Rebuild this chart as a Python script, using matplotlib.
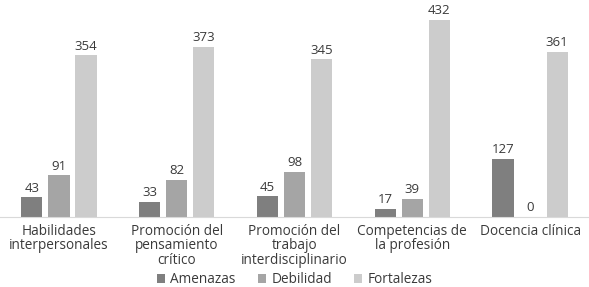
import matplotlib.pyplot as plt
import numpy as np

plt.rcParams['font.family'] = ['Open Sans', 'DejaVu Sans']

categorias = ['Habilidades\ninterpersonales', 'Promoción del\npensamiento\ncrítico',
              'Promoción del\ntrabajo\ninterdisciplinario', 'Competencias de\nla profesión',
              'Docencia clínica']
amenazas = [43, 33, 45, 17, 127]
debilidad = [91, 82, 98, 39, 0]
fortalezas = [354, 373, 345, 432, 361]

series = [('Amenazas', amenazas, '#7f7f7f'),
          ('Debilidad', debilidad, '#a5a5a5'),
          ('Fortalezas', fortalezas, '#cccccc')]

fig = plt.figure(figsize=(5.89, 2.87), dpi=100)
ax = fig.add_axes([0.0, 0.244, 1.0, 0.74])

x = np.arange(len(categorias))
w = 0.18
step = 0.23
txt = '#3a3a3a'
for i, (nombre, vals, col) in enumerate(series):
    pos = x + (i - 1) * step
    bars = ax.bar(pos, vals, width=w, color=col, label=nombre)
    for b, v in zip(bars, vals):
        ax.text(b.get_x() + b.get_width() / 2, v + 6, str(v), ha='center', va='bottom',
                fontsize=9.5, color=txt)

ax.set_xlim(-0.5, len(categorias) - 0.5)
ax.set_ylim(0, 465)
ax.set_yticks([])
ax.set_xticks(x)
ax.set_xticklabels(categorias, fontsize=9.8, color=txt, linespacing=0.95)
ax.tick_params(axis='x', length=0, pad=5)
for s in ['top', 'right', 'left']:
    ax.spines[s].set_visible(False)
ax.spines['bottom'].set_color('#d9d9d9')

fig.legend(loc='lower center', bbox_to_anchor=(0.5, -0.006), ncol=3, frameon=False,
           fontsize=9.8, handlelength=0.6, handleheight=0.6, columnspacing=1.6,
           handletextpad=0.4, labelcolor=txt, borderaxespad=0, borderpad=0.1)

fig.savefig('out.png', dpi=100)
